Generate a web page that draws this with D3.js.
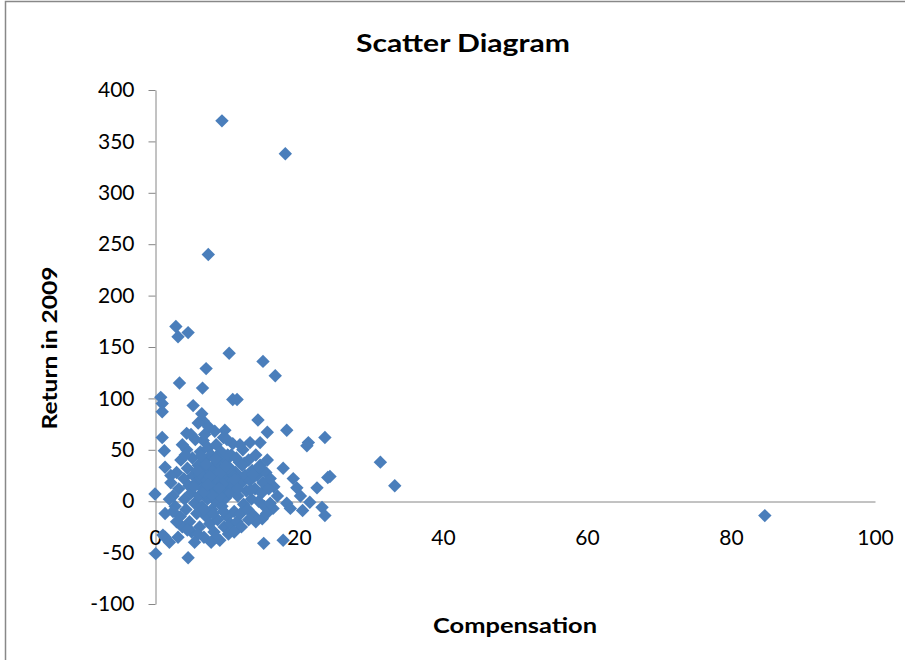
<!DOCTYPE html>
<html><head><meta charset="utf-8">
<script src="https://cdn.jsdelivr.net/npm/d3@7"></script>
<style>body{margin:0;background:#fff}svg{display:block}</style>
</head><body>
<script>
const title = "Scatter Diagram";
const xTitle = "Compensation";
const yTitle = "Return in 2009";
const xTicks = [0, 20, 40, 60, 80, 100];
const yTicks = [-100, -50, 0, 50, 100, 150, 200, 250, 300, 350, 400];
const compensation = [9.3,18.1,7.4,2.9,4.6,3.2,10.3,15,7.1,3.4,16.7,6.6,0.8,1,5.3,1,10.8,11.4,14.3,6.7,6,9.7,18.3,15.6,4.4,1,6.7,10.8,13.2,14.6,21.3,23.6,21.1,1.3,1.4,31.3,33.3,24.3,84.7,0.1,4.6,15.1,17.8,1.4,1.1,1.4,0,17.8,19.2,22.5,21.5,18.3,23.2,19.7,14.9,16.4,18.8,20.5,23.6,24,20.2,16.5,17,
2.2,2.5,2.8,3,3.3,3.5,3.6,3.8,4,4.1,4.3,4.4,4.5,4.7,4.8,5,5.1,5.2,5.3,5.5,5.6,5.7,5.8,6,6.1,6.2,6.3,6.4,6.5,6.6,6.7,6.8,6.9,7,7.1,7.2,7.3,7.4,7.5,7.6,7.7,7.8,7.9,8,8.1,8.2,8.3,8.4,8.5,8.6,8.7,8.8,8.9,9,9.1,9.2,9.3,9.4,9.5,9.6,9.7,9.8,9.9,10,10.1,10.2,10.3,10.4,10.5,10.6,10.8,11,11.2,11.4,11.5,11.7,11.9,12,12.2,12.3,12.5,12.7,12.9,13,13.2,13.4,13.5,13.7,13.9,14,14.2,14.4,14.6,14.8,15,15.2,15.4,15.6,15.8,16,14,12,11,8.5,7.8,6,5.5,4.5,3,2.5,2,2.2,3.8,5,7.5,8.3,10,11.8,6.5,4.2,9,10.5,7,8,9.5,6.8,5.8,11.5,13,15.5,16,3.2,2,
5.4,6.2,7.1,7.9,8.6,9.4,10.2,11.1,12.4,13.3,5.9,6.8,7.6,8.4,9.2,10.1,11,12.1,13.6,14.5,6.4,7.3,8.9,9.8,11.3];
const returns = [370,338,240,170,164,160,144,136,129,115,122,110,101,95,93,87,99,99,79,78,76,69,69,67,66,62,59,56,57,57,57,62,54,49,33,38,15,24,-14,-51,-55,-41,-38,-35,-33,-12,7,32,22,13,-1,-2,-6,13,-17,-7,-7,-9,-14,23,5,14,5,
18,5,-5,28,12,-15,40,-25,22,2,-8,50,32,15,-20,8,-30,42,25,-2,60,18,-12,35,5,-25,48,22,-5,12,30,-35,65,40,-15,20,2,52,28,-22,10,45,-8,33,15,-30,25,0,55,38,-18,8,20,-38,30,48,-5,12,62,-25,24,3,40,-15,18,-32,33,8,-22,45,15,-10,28,-20,5,38,-12,18,50,-3,25,10,-8,40,20,2,30,-14,12,45,25,0,35,8,18,-5,28,40,12,22,-20,-25,-30,-35,-40,-32,-40,-28,-20,-10,2,25,55,65,72,68,60,55,85,45,5,28,8,-12,-10,-8,28,12,-18,-12,-2,-35,-40,
14,27,36,6,43,17,32,23,37,11,30,9,24,41,28,45,21,35,26,33,44,16,13,34,42];

const W = 905, H = 660;
const svg = d3.select("body").append("svg").attr("width", W).attr("height", H);
svg.append("rect").attr("x", 5.5).attr("y", 1.5).attr("width", 940).attr("height", 700)
  .attr("fill", "none").attr("stroke", "#888").attr("stroke-width", 1.5);

const x = d3.scaleLinear().domain([0, 100]).range([155, 875]);
const y = d3.scaleLinear().domain([-100, 400]).range([604, 90]);
const font = "Lato, 'Open Sans', sans-serif";
const fmt = d => String(d);

// y axis
const yAxis = svg.append("g").attr("transform", "translate(155.5,0)")
  .call(d3.axisLeft(y).tickValues(yTicks).tickFormat(fmt).tickSize(7).tickPadding(14).tickSizeOuter(0));
yAxis.select(".domain").attr("stroke", "#868686");
yAxis.selectAll(".tick line").attr("stroke", "#868686");
yAxis.selectAll("text").attr("font-family", font).attr("font-size", 21).attr("fill", "#000");

// x axis
const xAxis = svg.append("g").attr("transform", `translate(0,${Math.round(y(0))+0.5})`)
  .call(d3.axisBottom(x).tickValues(xTicks).tickFormat(fmt).tickSize(0).tickPadding(29).tickSizeOuter(0));
xAxis.select(".domain").attr("stroke", "#868686");
xAxis.selectAll("text").attr("font-family", font).attr("font-size", 21).attr("fill", "#000");

// points
const pts = compensation.map((c, i) => ({c, r: returns[i]}));
const sym = d3.symbol(d3.symbolSquare, 90);
svg.append("g").selectAll("path").data(pts).join("path")
  .attr("d", sym)
  .attr("transform", d => `translate(${x(d.c)},${y(d.r)}) rotate(45)`)
  .attr("fill", "#4a7ebb");

// titles
svg.append("text").attr("x", 463).attr("y", 52).attr("text-anchor", "middle")
  .attr("font-family", font).attr("font-weight", "bold").attr("font-size", 24)
  .attr("textLength", 214).attr("lengthAdjust", "spacingAndGlyphs").text(title);
svg.append("text").attr("x", 515).attr("y", 633).attr("text-anchor", "middle")
  .attr("font-family", font).attr("font-weight", "bold").attr("font-size", 21)
  .attr("textLength", 164).attr("lengthAdjust", "spacingAndGlyphs").text(xTitle);
svg.append("text").attr("transform", "translate(57,348) rotate(-90)").attr("text-anchor", "middle")
  .attr("font-family", font).attr("font-weight", "bold").attr("font-size", 21)
  .attr("textLength", 163).attr("lengthAdjust", "spacingAndGlyphs").text(yTitle);
</script>
</body></html>
